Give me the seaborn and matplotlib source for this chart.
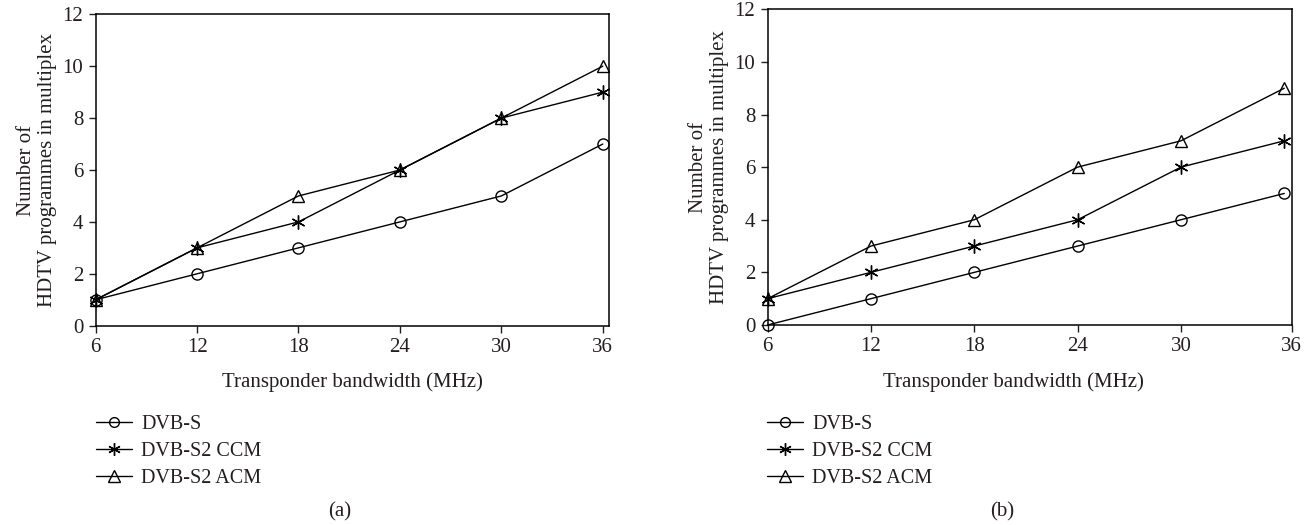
import numpy as np
import pandas as pd
import seaborn as sns
import matplotlib.pyplot as plt
from matplotlib.lines import Line2D

# data
bandwidth = [6, 12, 18, 24, 30, 36]
series_names = ['DVB-S', 'DVB-S2 CCM', 'DVB-S2 ACM']

a_dvbs = [1, 2, 3, 4, 5, 7]
a_ccm = [1, 3, 4, 6, 8, 9]
a_acm = [1, 3, 5, 6, 8, 10]

b_dvbs = [0, 1, 2, 3, 4, 5]
b_ccm = [1, 2, 3, 4, 6, 7]
b_acm = [1, 3, 4, 6, 7, 9]

x_ticks = [6, 12, 18, 24, 30, 36]
y_ticks = [0, 2, 4, 6, 8, 10, 12]

sns.set_style('ticks')
plt.rcParams['font.family'] = ['Liberation Serif', 'DejaVu Serif']
plt.rcParams['font.size'] = 15
ink = '#231f20'
plt.rcParams['text.color'] = ink
plt.rcParams['axes.labelcolor'] = ink
plt.rcParams['xtick.color'] = ink
plt.rcParams['ytick.color'] = ink


def make_frame(dvbs, ccm, acm):
    rows = []
    for name, vals in zip(series_names, [dvbs, ccm, acm]):
        for x, y in zip(bandwidth, vals):
            rows.append({'bw': x, 'n': y, 'series': name})
    return pd.DataFrame(rows)


markers = {'DVB-S': 'o', 'DVB-S2 CCM': (6, 2, 0), 'DVB-S2 ACM': '^'}
msizes = {'DVB-S': 8, 'DVB-S2 CCM': 10, 'DVB-S2 ACM': 9}

fig = plt.figure(figsize=(13.12, 5.25), dpi=100)
ax_a = fig.add_axes([0.0729, 0.3796, 0.3913, 0.5932])
ax_b = fig.add_axes([0.5851, 0.381, 0.3994, 0.6013])

panels = [
    (ax_a, make_frame(a_dvbs, a_ccm, a_acm), 36.37, x_ticks),
    (ax_b, make_frame(b_dvbs, b_ccm, b_acm), 36.43, [6, 12, 18, 24, 30, 36.43]),
]

for ax, df, xmax, tick_pos in panels:
    for name in series_names:
        sub = df[df['series'] == name]
        sns.lineplot(data=sub, x='bw', y='n', ax=ax, color='black', lw=1.0,
                     marker=markers[name], markersize=msizes[name],
                     markerfacecolor='none', markeredgecolor='black',
                     markeredgewidth=1.0, clip_on=False, zorder=3)
    ax.set_xlim(6, xmax)
    ax.set_ylim(0, 12)
    ax.set_xticks(tick_pos)
    ax.set_xticklabels([str(t) for t in x_ticks])
    ax.set_yticks(y_ticks)
    ax.set_xlabel('Transponder bandwidth (MHz)', fontsize=15)
    ax.set_ylabel('Number of\nHDTV programmes in multiplex', fontsize=15, labelpad=4, linespacing=1.15)
    ax.tick_params(axis='both', direction='out', length=5, width=1, labelsize=15, pad=4)
    for s in ax.spines.values():
        s.set_linewidth(1.1)
        s.set_color('black')

ax_a.xaxis.set_label_coords(0.5, -0.15)
ax_b.xaxis.set_label_coords(0.47, -0.15)

handles = [Line2D([], [], color='black', lw=1.0, marker=markers[n], markersize=msizes[n] - 1,
                  markerfacecolor='none', markeredgecolor='black') for n in series_names]

for lx in [96 / 1312, 767 / 1312]:
    fig.legend(handles, series_names, loc='upper left', bbox_to_anchor=(lx, 1 - 415 / 525),
               bbox_transform=fig.transFigure, frameon=False, borderpad=0, borderaxespad=0,
               handlelength=1.8, handletextpad=0.45, labelspacing=0.38, fontsize=14.5)

fig.text(340 / 1312, 1 - 512 / 525, '(a)', ha='center', va='center', fontsize=15)
fig.text(1002 / 1312, 1 - 512 / 525, '(b)', ha='center', va='center', fontsize=15)

fig.savefig('out.png', dpi=100)
